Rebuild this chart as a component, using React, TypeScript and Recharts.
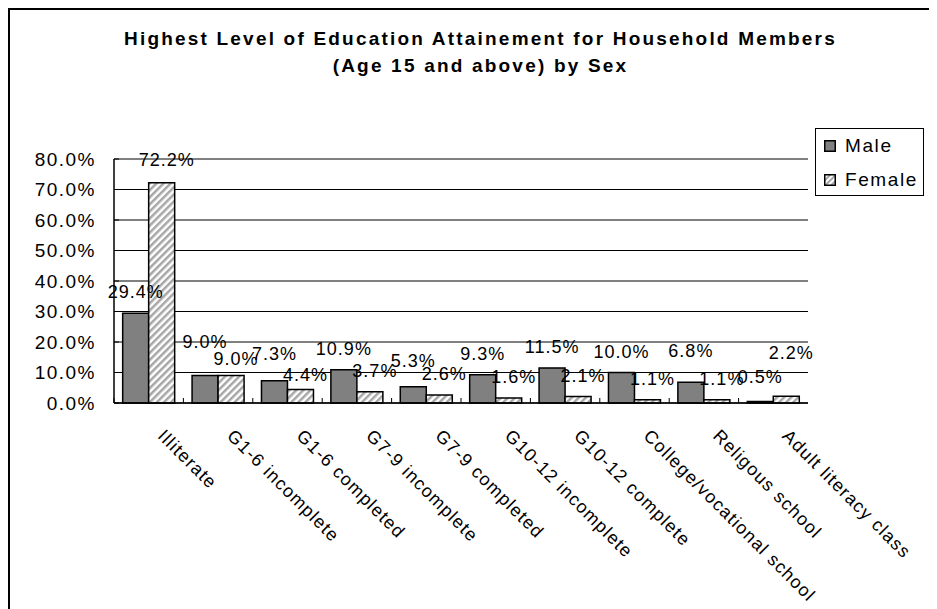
import React from 'react';
import {
  BarChart,
  Bar,
  XAxis,
  YAxis,
  CartesianGrid,
  LabelList
} from 'recharts';

const categories: string[] = [
  'Illiterate',
  'G1-6 incomplete',
  'G1-6 completed',
  'G7-9 incomplete',
  'G7-9 completed',
  'G10-12 incomplete',
  'G10-12 complete',
  'College/vocational school',
  'Religous school',
  'Adult literacy class'
];

const maleValues: number[] = [29.4, 9.0, 7.3, 10.9, 5.3, 9.3, 11.5, 10.0, 6.8, 0.5];
const femaleValues: number[] = [72.2, 9.0, 4.4, 3.7, 2.6, 1.6, 2.1, 1.1, 1.1, 2.2];
const yTicks: number[] = [0, 10, 20, 30, 40, 50, 60, 70, 80];

// extra vertical nudges for labels that were moved apart in the original
const maleLabelLift: number[] = [0, 13, 6, 0, 5, 0, 0, 0, 10, 3];
const femaleLabelLift: number[] = [2, -4, -6, 0, 0, 0, 0, 0, 0, 22];

const chartData = categories.map((name, i) => ({
  name,
  male: maleValues[i],
  female: femaleValues[i]
}));

const FONT = '"Liberation Sans", Arial, Helvetica, sans-serif';
const pct = (v: number) => `${Number(v).toFixed(1)}%`;

const YTick = (props: any) => {
  const { x, y, payload } = props;
  return (
    <g>
      <line x1={x + 18} x2={x + 23} y1={y} y2={y} stroke="#000" />
      <text
        x={x}
        y={y}
        dy="0.36em"
        textAnchor="end"
        fill="#000"
        fontSize={19}
        style={{ letterSpacing: '1.5px' }}
      >
        {pct(payload.value)}
      </text>
    </g>
  );
};

const XTick = (props: any) => {
  const { x, y, payload } = props;
  const half = payload.offset ?? 34.7;
  const tx = x + 8;
  const ty = y + 34;
  return (
    <g>
      <line x1={x - half} x2={x - half} y1={y} y2={y - 5} stroke="#000" />
      <text
        x={tx}
        y={ty}
        transform={`rotate(45, ${tx}, ${ty})`}
        textAnchor="start"
        fill="#000"
        fontSize={18}
        style={{ letterSpacing: '1.2px' }}
      >
        {payload.value}
      </text>
    </g>
  );
};

const makeLabel = (lift: number[], dx: number) => (props: any) => {
  const { x, y, width, value, index } = props;
  return (
    <text
      x={x + width / 2 + dx}
      y={y - 15 - (lift[index] ?? 0)}
      textAnchor="middle"
      fill="#000"
      fontSize={18}
      style={{ letterSpacing: '1px' }}
    >
      {pct(value)}
    </text>
  );
};

export default function App() {
  return (
    <div
      style={{
        position: 'relative',
        width: 929,
        height: 601,
        boxSizing: 'border-box',
        borderLeft: '2px solid #000',
        borderTop: '2px solid #000',
        fontFamily: FONT,
        background: '#fff'
      }}
    >
      <div
        style={{
          position: 'absolute',
          left: 0,
          top: 15,
          width: 927,
          paddingLeft: 14,
          boxSizing: 'border-box',
          textAlign: 'center',
          fontWeight: 'bold',
          fontSize: 19,
          lineHeight: '27px',
          letterSpacing: '2.2px',
          color: '#000'
        }}
      >
        <div>Highest Level of Education Attainement for Household Members</div>
        <div>(Age 15 and above) by Sex</div>
      </div>

      <div style={{ position: 'absolute', left: 0, top: 0 }}>
        <BarChart
          width={927}
          height={599}
          data={chartData}
          margin={{ top: 149, right: 129, left: 0, bottom: 0 }}
          barCategoryGap="12.5%"
          barGap={0}
          style={{ overflow: 'visible' }}
        >
          <defs>
            <pattern
              id="hatch"
              patternUnits="userSpaceOnUse"
              width={5}
              height={5}
              patternTransform="rotate(45)"
            >
              <rect width={5} height={5} fill="#fff" />
              <rect width={2.5} height={5} fill="#a6a6a6" />
            </pattern>
          </defs>
          <CartesianGrid vertical={false} stroke="#000" strokeWidth={1} />
          <XAxis
            dataKey="name"
            height={206}
            interval={0}
            tickSize={0}
            tickMargin={0}
            tickLine={false}
            axisLine={{ stroke: '#000', strokeWidth: 1.5 }}
            tick={<XTick />}
          />
          <XAxis
            xAxisId="top"
            dataKey="name"
            orientation="top"
            height={0}
            tick={false}
            tickLine={false}
            axisLine={{ stroke: '#808080', strokeWidth: 1.5 }}
          />
          <YAxis
            width={104}
            domain={[0, 80]}
            ticks={yTicks}
            interval={0}
            tickSize={0}
            tickMargin={18}
            tickLine={false}
            axisLine={{ stroke: '#000', strokeWidth: 1.5 }}
            tick={<YTick />}
          />
          <YAxis
            yAxisId="right"
            orientation="right"
            width={0}
            domain={[0, 80]}
            tick={false}
            tickLine={false}
            axisLine={{ stroke: '#808080', strokeWidth: 1.5 }}
          />
          <Bar
            dataKey="male"
            name="Male"
            fill="#808080"
            stroke="#000"
            strokeWidth={1.5}
            isAnimationActive={false}
          >
            <LabelList dataKey="male" content={makeLabel(maleLabelLift, 0)} />
          </Bar>
          <Bar
            dataKey="female"
            name="Female"
            fill="url(#hatch)"
            stroke="#000"
            strokeWidth={1.5}
            isAnimationActive={false}
          >
            <LabelList dataKey="female" content={makeLabel(femaleLabelLift, 5)} />
          </Bar>
        </BarChart>
      </div>

      <div
        style={{
          position: 'absolute',
          left: 805,
          top: 118,
          width: 109,
          height: 68,
          boxSizing: 'border-box',
          border: '1px solid #000',
          background: '#fff',
          fontSize: 19,
          letterSpacing: '1.6px',
          color: '#000'
        }}
      >
        {[
          { label: 'Male', fill: '#808080' },
          { label: 'Female', fill: 'url(#legendHatch)' }
        ].map((item, i) => (
          <div
            key={item.label}
            style={{
              position: 'absolute',
              left: 8,
              top: 5 + i * 34,
              height: 24,
              display: 'flex',
              alignItems: 'center'
            }}
          >
            <svg width={12} height={12} style={{ marginRight: 9 }}>
              <defs>
                <pattern
                  id="legendHatch"
                  patternUnits="userSpaceOnUse"
                  width={4}
                  height={4}
                  patternTransform="rotate(45)"
                >
                  <rect width={4} height={4} fill="#fff" />
                  <rect width={2} height={4} fill="#a6a6a6" />
                </pattern>
              </defs>
              <rect x={0.75} y={0.75} width={10.5} height={10.5} fill={item.fill} stroke="#000" strokeWidth={1.5} />
            </svg>
            <span>{item.label}</span>
          </div>
        ))}
      </div>
    </div>
  );
}
